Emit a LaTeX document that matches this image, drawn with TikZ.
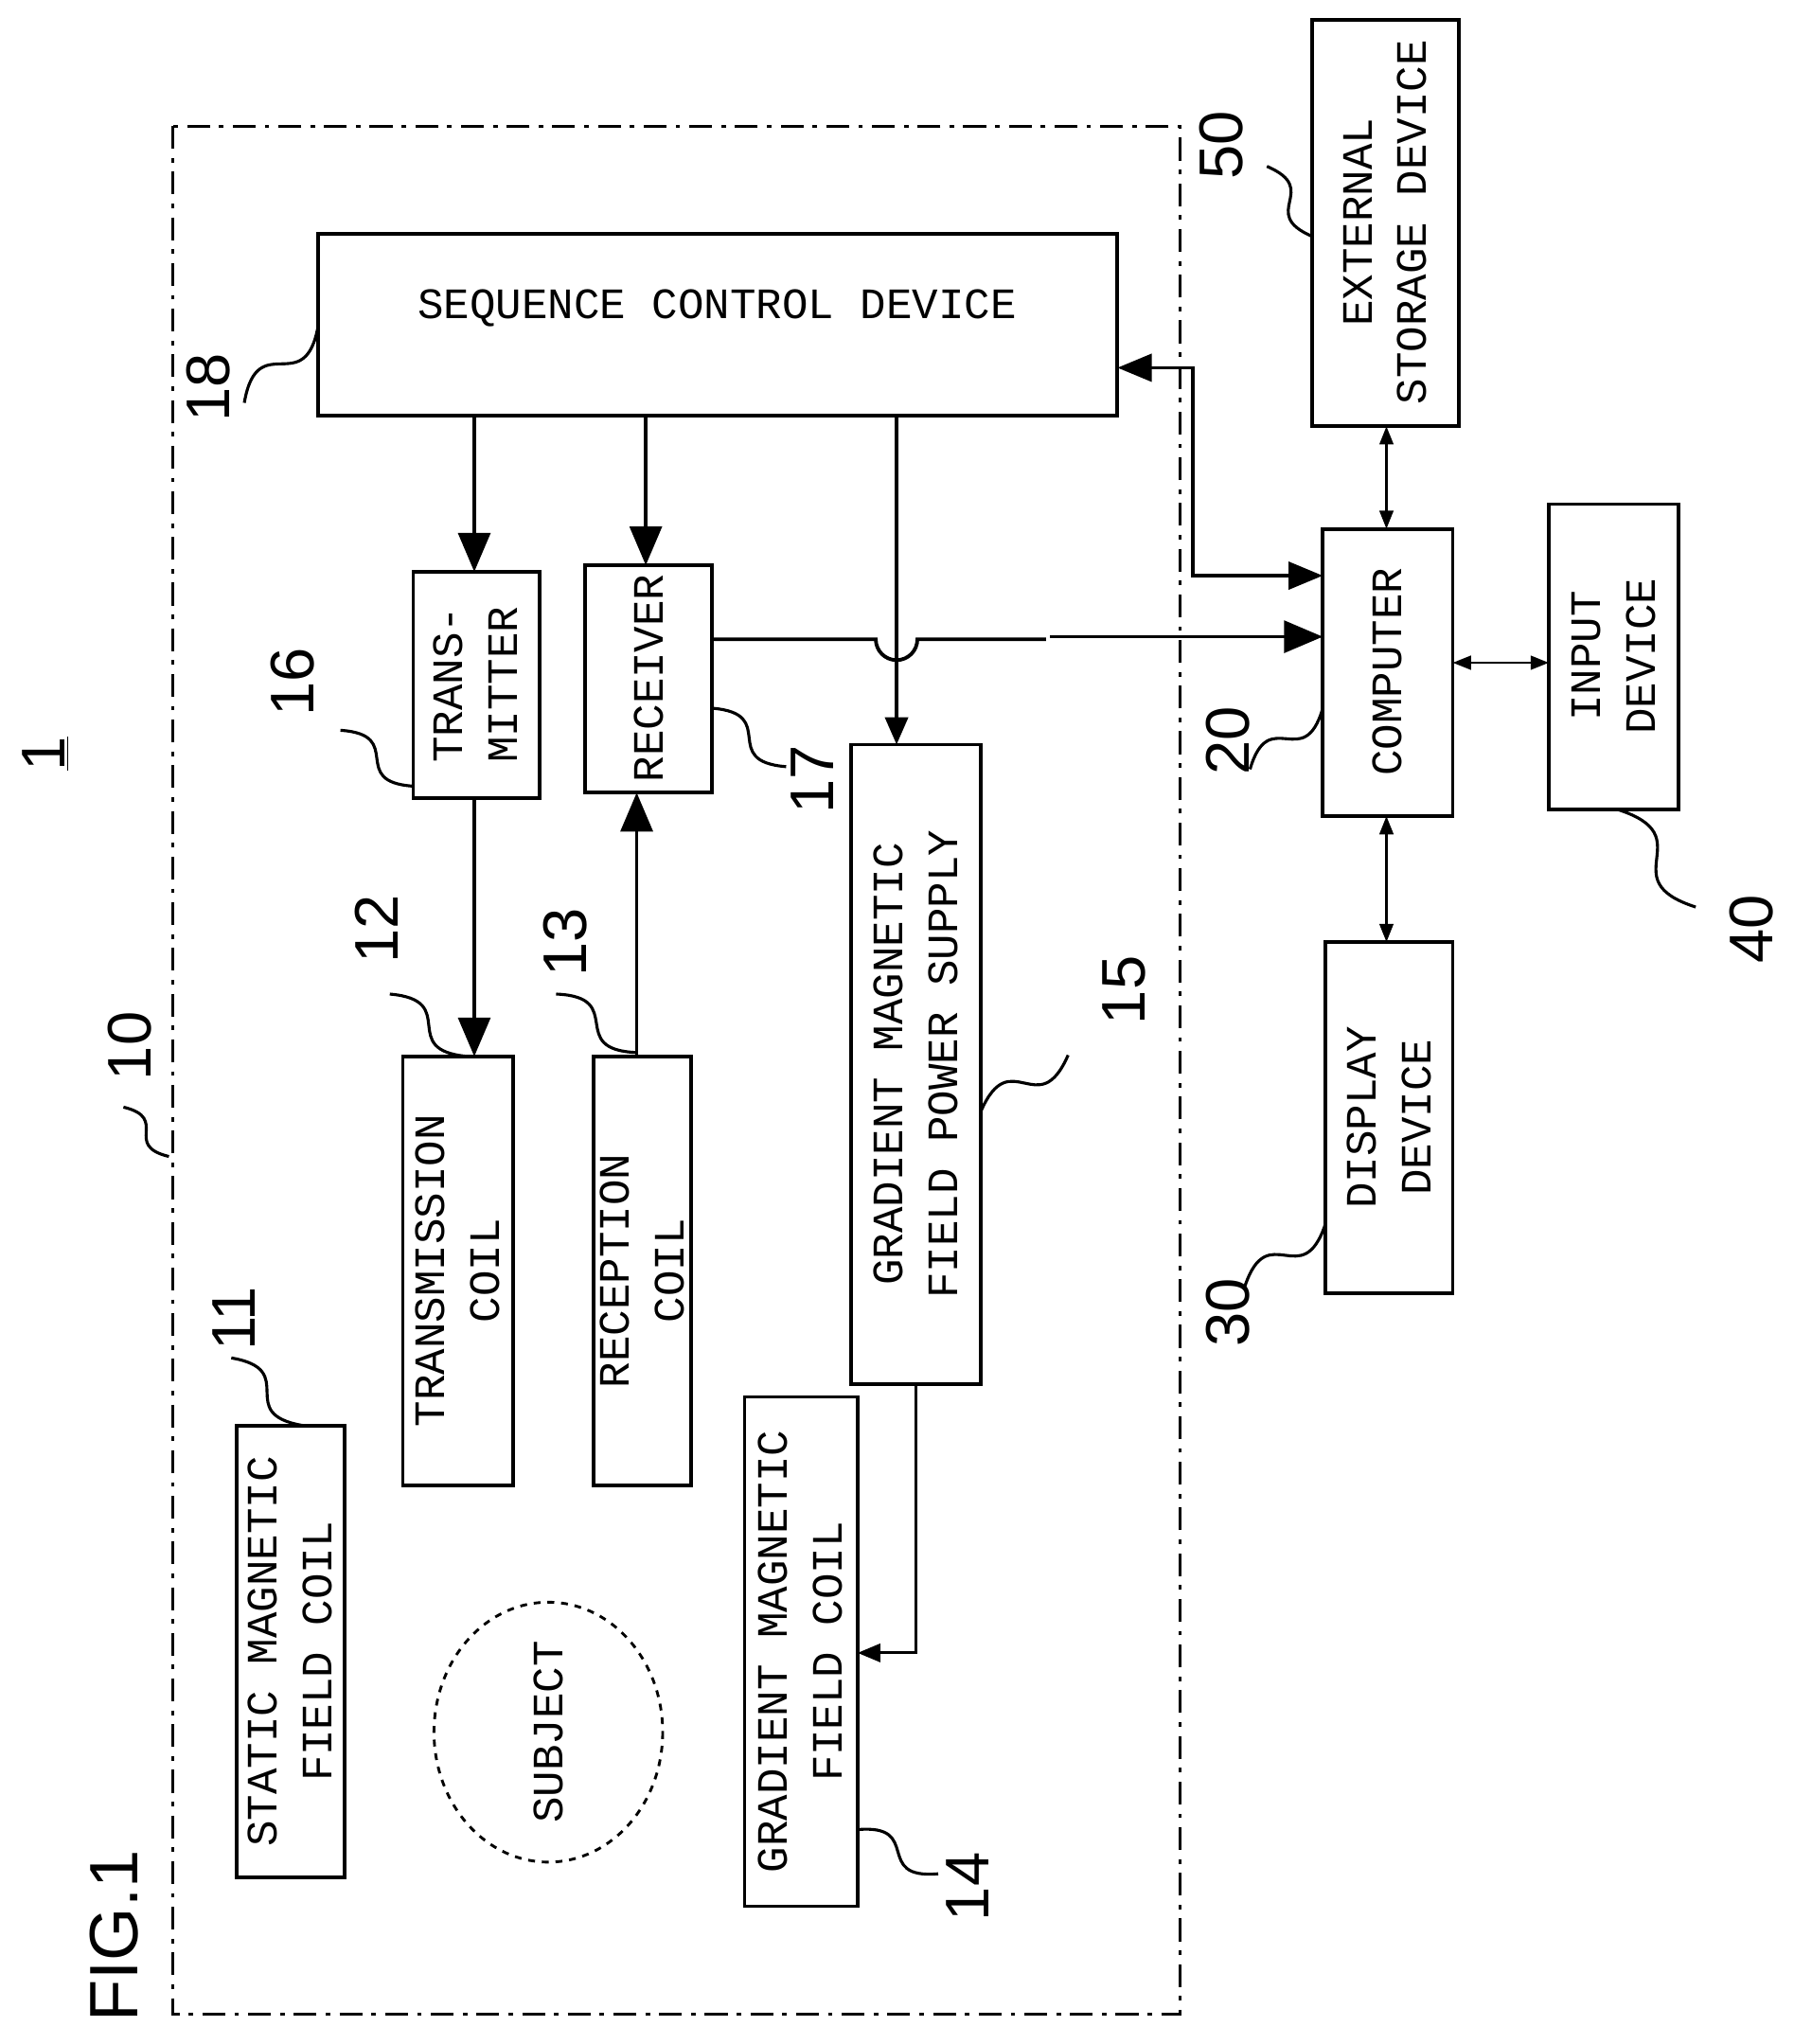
\documentclass[tikz,border=0pt]{standalone}
\usepackage{fontspec}
\setmainfont{Liberation Sans}
\newfontfamily\mono{Liberation Mono}
\usetikzlibrary{calc,arrows.meta}
\begin{document}
\begin{tikzpicture}[x=0.02cm,y=-0.02cm,
  box/.style={draw,line width=1.6pt},
  btxt/.style={font=\mono\fontsize{19}{24}\selectfont,align=center,rotate=90},
  num/.style={font=\fontsize{27}{30}\selectfont,rotate=90},
  big/.style={-{Triangle[length=17pt,width=14pt]},line width=1.6pt},
  sm/.style={-{Triangle[length=10pt,width=8pt]},line width=1.2pt},
  dbl/.style={{Triangle[length=8pt,width=6pt]}-{Triangle[length=8pt,width=6pt]},line width=1.2pt},
  sq/.style={line width=1.3pt}]
\useasboundingbox (0,0) rectangle (1380,1573);
\draw[line width=1.2pt,dash pattern=on 10pt off 4pt on 2pt off 4pt] (133,97) rectangle (908,1550);
\draw[box] (245,180) rectangle (860,320);
\node[font=\mono\fontsize{19}{24}\selectfont] (seq) at (552,237) {SEQUENCE CONTROL DEVICE};
\draw[box] (318,440) rectangle (415,614); \node[btxt] (tx) at (366,527) {TRANS-\\MITTER};
\draw[box] (450,435) rectangle (548,610); \node[btxt] (rx) at (499,522) {RECEIVER};
\draw[box] (655,573) rectangle (755,1065); \node[btxt] (gps) at (705,819) {GRADIENT MAGNETIC\\FIELD POWER SUPPLY};
\draw[box] (310,813) rectangle (395,1143); \node[btxt] (tc) at (352,978) {TRANSMISSION\\COIL};
\draw[box] (457,813) rectangle (532,1143); \node[btxt] (rc) at (494,978) {RECEPTION\\COIL};
\draw[box] (182,1097) rectangle (265,1445); \node[btxt] (sc) at (223,1271) {STATIC MAGNETIC\\FIELD COIL};
\draw[line width=1.2pt,dashed] (422,1333) ellipse [x radius=88,y radius=100];
\node[btxt] (subj) at (422,1333) {SUBJECT};
\draw[box] (573,1075) rectangle (660,1467); \node[btxt] (gc) at (616,1271) {GRADIENT MAGNETIC\\FIELD COIL};
\draw[box] (1010,15) rectangle (1123,328); \node[btxt] (ext) at (1066,171) {EXTERNAL\\STORAGE DEVICE};
\draw[box] (1018,407) rectangle (1118,628); \node[btxt] (comp) at (1068,517) {COMPUTER};
\draw[box] (1192,388) rectangle (1292,623); \node[btxt] (inp) at (1242,505) {INPUT\\DEVICE};
\draw[box] (1020,725) rectangle (1118,995); \node[btxt] (disp) at (1069,860) {DISPLAY\\DEVICE};
% arrows
\draw[big] (365,320) -- (365,440);
\draw[big] (497,320) -- (497,435);
\draw[-{Triangle[length=12pt,width=10pt]},line width=1.6pt] (690,320) -- (690,573);
\draw[big] (365,614) -- (365,813);
\draw[big] (490,813) -- (490,610);
\draw[line width=1.6pt] (548,492) -- (674,492) arc[start angle=180,end angle=0,radius=16] -- (805,492);
\draw[big] (808,490) -- (1018,490);
\draw[line width=1.6pt,{Triangle[length=15pt,width=12pt]}-{Triangle[length=15pt,width=12pt]}] (860,283) -- (918,283) -- (918,443) -- (1018,443);
\draw[dbl] (1067,328) -- (1067,407);
\draw[dbl] (1118,510) -- (1192,510);
\draw[dbl] (1067,628) -- (1067,725);
\draw[sm] (705,1065) -- (705,1272) -- (660,1272);
% labels
\node[num] (l1) at (35,580) {\underline{1}};
\node[num] (l18) at (160,298) {18};
\node[num] (l16) at (225,525) {16};
\node[num] (l17) at (625,600) {17};
\node[num] (l12) at (290,715) {12};
\node[num] (l13) at (435,725) {13};
\node[num] (l15) at (865,762) {15};
\node[num] (l10) at (100,805) {10};
\node[num] (l11) at (180,1015) {11};
\node[num] (l14) at (745,1452) {14};
\node[num] (l20) at (945,570) {20};
\node[num] (l30) at (945,1010) {30};
\node[num] (l40) at (1348,715) {40};
\node[num] (l50) at (940,112) {50};
\node[num,font=\fontsize{30}{34}\selectfont] (fig) at (88,1490) {FIG.1};
\foreach \a/\b in {{245,250}/{188,310},{318,605}/{262,562},{548,545}/{605,590},{360,813}/{300,765},{490,810}/{428,765},{755,855}/{822,812},{130,890}/{95,852},{233,1097}/{178,1045},{660,1408}/{722,1442},{1018,545}/{962,592},{1020,942}/{958,990},{1245,623}/{1305,698},{1010,182}/{975,128}}{
  \coordinate (p) at (\a); \coordinate (q) at (\b);
  \draw[sq] (p) .. controls ($(p)!0.6!(q)!1.0!90:(q)$) and ($(q)!0.6!(p)!1.0!90:(p)$) .. (q);
}
\end{tikzpicture}
\end{document}
